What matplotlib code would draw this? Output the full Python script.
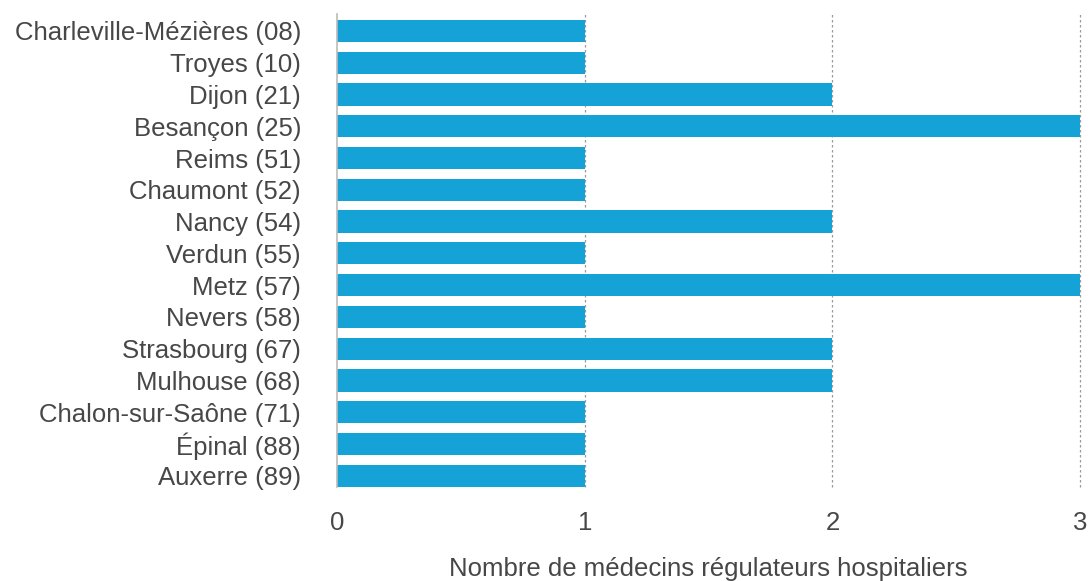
import matplotlib
matplotlib.use("Agg")
import matplotlib.pyplot as plt

cities = [
    "Charleville-Mézières (08)", "Troyes (10)", "Dijon (21)", "Besançon (25)",
    "Reims (51)", "Chaumont (52)", "Nancy (54)", "Verdun (55)", "Metz (57)",
    "Nevers (58)", "Strasbourg (67)", "Mulhouse (68)", "Chalon-sur-Saône (71)",
    "Épinal (88)", "Auxerre (89)",
]
doctors = [1, 1, 2, 3, 1, 1, 2, 1, 3, 1, 2, 2, 1, 1, 1]
x_ticks = [0, 1, 2, 3]
x_label = "Nombre de médecins régulateurs hospitaliers"

plt.rcParams["font.family"] = ["Liberation Sans", "DejaVu Sans"]
text_color = "#474747"
bar_color = "#14a2d7"
fs = 18.5

fig = plt.figure(figsize=(10.91, 5.81), dpi=100)
ax = fig.add_axes([0.309, 0.162, 0.681, 0.814])

positions = list(range(len(cities)))
ax.barh(positions, doctors, height=0.7, color=bar_color, zorder=2)

ax.set_ylim(len(cities) - 0.65, -0.535)
ax.set_xlim(0, 3)
ax.set_yticks(positions)
ax.set_yticklabels(cities, fontsize=fs, color=text_color)
ax.set_xticks(x_ticks)
ax.set_xticklabels([str(t) for t in x_ticks], fontsize=fs, color=text_color)
ax.tick_params(axis="y", length=0, pad=26)
ax.tick_params(axis="x", length=0, pad=17.5)

for t in x_ticks[1:]:
    ax.axvline(t, color="#9a9a9a", linestyle=(0, (2, 2)), linewidth=0.9,
               zorder=1, clip_on=False)

for side in ["top", "right", "bottom"]:
    ax.spines[side].set_visible(False)
ax.spines["left"].set_color("#bbbbbb")
ax.spines["left"].set_linewidth(1.2)

ax.set_xlabel(x_label, fontsize=fs, color=text_color, labelpad=16)

fig.savefig("out.png", dpi=100)
